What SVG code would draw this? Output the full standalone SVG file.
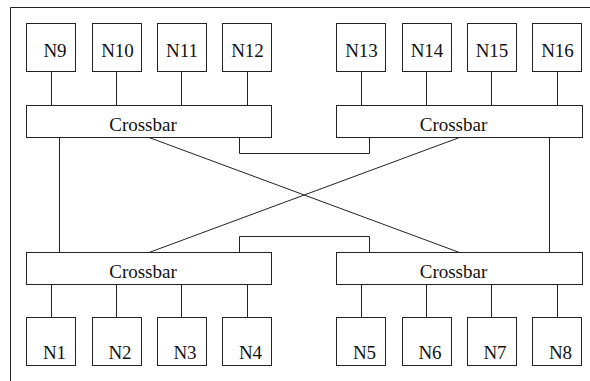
<svg xmlns="http://www.w3.org/2000/svg" width="590" height="381" viewBox="0 0 590 381">
<style>
.b{fill:#fff;stroke:#222;stroke-width:1}
.t{font-family:'Liberation Serif','Times New Roman',serif;font-size:19px;fill:#111;text-anchor:middle}
.c{fill:none;stroke:#222;stroke-width:1}
</style>
<rect width="590" height="381" fill="#fff"/>
<g id="frame" class="c"><polyline points="10.5,381 10.5,7.5 590,7.5"/></g>
<g id="connectors" class="c">
<path d="M51.5,71.5V105.5M116.5,71.5V105.5M181.5,71.5V105.5M247.5,71.5V105.5"/>
<path d="M361.5,71.5V105.5M426.5,71.5V105.5M491.5,71.5V105.5M557.5,71.5V105.5"/>
<path d="M51.5,284.5V317.5M116.5,284.5V317.5M181.5,284.5V317.5M247.5,284.5V317.5"/>
<path d="M361.5,284.5V317.5M426.5,284.5V317.5M491.5,284.5V317.5M557.5,284.5V317.5"/>
<path d="M59.5,137.5V252.5M549.5,137.5V252.5"/>
<path d="M239.5,137.5V153.5H369.5V137.5"/>
<path d="M239.5,252.5V236.5H369.5V252.5"/>
<path d="M149,137.5L459.5,252.5M459.5,137.5L149,252.5"/>
</g>
<g id="xbar-tl"><rect class="b" x="26.5" y="105.5" width="245" height="32"/><text class="t" x="143" y="130.5">Crossbar</text></g>
<g id="xbar-tr"><rect class="b" x="336.5" y="105.5" width="246" height="32"/><text class="t" x="453.5" y="130.5">Crossbar</text></g>
<g id="xbar-bl"><rect class="b" x="26.5" y="252.5" width="245" height="32"/><text class="t" x="143" y="277.5">Crossbar</text></g>
<g id="xbar-br"><rect class="b" x="336.5" y="252.5" width="246" height="32"/><text class="t" x="453.5" y="277.5">Crossbar</text></g>
<g id="N9"><rect class="b" x="26.5" y="23.5" width="49" height="48"/><text class="t" x="55" y="56.5">N9</text></g>
<g id="N10"><rect class="b" x="92.5" y="23.5" width="49" height="48"/><text class="t" x="117.5" y="56.5">N10</text></g>
<g id="N11"><rect class="b" x="157.5" y="23.5" width="49" height="48"/><text class="t" x="182" y="56.5">N11</text></g>
<g id="N12"><rect class="b" x="222.5" y="23.5" width="49" height="48"/><text class="t" x="247.5" y="56.5">N12</text></g>
<g id="N13"><rect class="b" x="336.5" y="23.5" width="49" height="48"/><text class="t" x="361.5" y="56.5">N13</text></g>
<g id="N14"><rect class="b" x="402.5" y="23.5" width="49" height="48"/><text class="t" x="427" y="56.5">N14</text></g>
<g id="N15"><rect class="b" x="467.5" y="23.5" width="49" height="48"/><text class="t" x="492" y="56.5">N15</text></g>
<g id="N16"><rect class="b" x="532.5" y="23.5" width="49" height="48"/><text class="t" x="557.5" y="56.5">N16</text></g>
<g id="N1"><rect class="b" x="26.5" y="317.5" width="49" height="48"/><text class="t" x="54.5" y="358.5">N1</text></g>
<g id="N2"><rect class="b" x="92.5" y="317.5" width="49" height="48"/><text class="t" x="120" y="358.5">N2</text></g>
<g id="N3"><rect class="b" x="157.5" y="317.5" width="49" height="48"/><text class="t" x="185" y="358.5">N3</text></g>
<g id="N4"><rect class="b" x="222.5" y="317.5" width="49" height="48"/><text class="t" x="250.5" y="358.5">N4</text></g>
<g id="N5"><rect class="b" x="336.5" y="317.5" width="49" height="48"/><text class="t" x="364.5" y="358.5">N5</text></g>
<g id="N6"><rect class="b" x="402.5" y="317.5" width="49" height="48"/><text class="t" x="430" y="358.5">N6</text></g>
<g id="N7"><rect class="b" x="467.5" y="317.5" width="49" height="48"/><text class="t" x="495" y="358.5">N7</text></g>
<g id="N8"><rect class="b" x="532.5" y="317.5" width="49" height="48"/><text class="t" x="560.5" y="358.5">N8</text></g>
</svg>
